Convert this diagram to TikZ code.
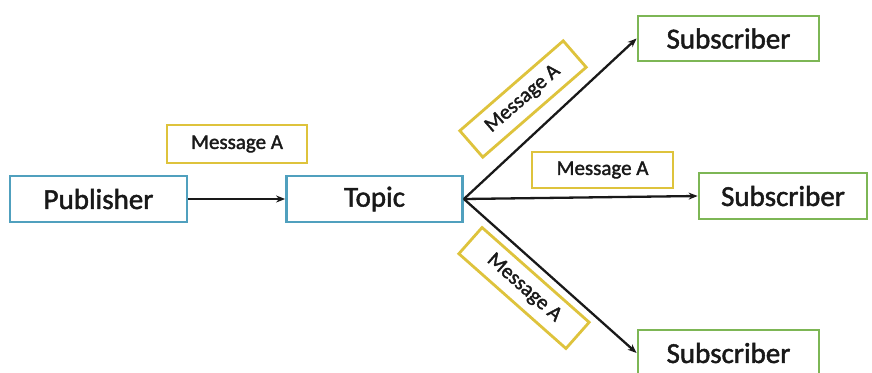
\documentclass[tikz,border=0pt]{standalone}
\usepackage{fontspec}
\setmainfont{Carlito}
\newfontfamily\labelfont[FakeBold=1.6]{Carlito}
\usetikzlibrary{arrows.meta}

\definecolor{pubblue}{RGB}{80,160,190}
\definecolor{msggold}{RGB}{222,195,60}
\definecolor{subgreen}{RGB}{125,182,85}
\definecolor{inktext}{RGB}{25,25,25}

\tikzset{
  bigbox/.style={draw, line width=2.8pt, fill=white, inner sep=0pt,
    text=inktext, font=\labelfont\fontsize{29}{34}\selectfont},
  pubbox/.style={bigbox, draw=pubblue},
  subbox/.style={bigbox, draw=subgreen},
  msgbox/.style={draw=msggold, line width=2.8pt, fill=white, inner sep=0pt,
    text=inktext, font=\labelfont\fontsize{21}{25}\selectfont},
  flow/.style={line width=2.3pt, draw=black!90, -{Stealth[length=9pt,width=7pt]}}
}

\begin{document}
\begin{tikzpicture}[x=1pt,y=-1pt]
  \useasboundingbox[fill=white] (0,0) rectangle (872,372);

  % main boxes
  \node[pubbox, minimum width=177pt, minimum height=46pt] (pub) at (98.5,199) {Publisher};
  \node[pubbox, minimum width=176pt, minimum height=46pt] (topic) at (374.5,199) {Topic};
  \node[subbox, minimum width=181pt, minimum height=45pt] (sub1) at (728.5,38.5) {Subscriber};
  \node[subbox, minimum width=168pt, minimum height=46pt] (sub2) at (783,196) {Subscriber};
  \node[subbox, minimum width=181pt, minimum height=46pt] (sub3) at (728.5,353) {Subscriber};

  % connectors
  \draw[flow] (pub.east) -- (topic.west);
  \draw[flow] (topic.east) -- (sub1.west);
  \draw[flow] (topic.east) -- (sub2.west);
  \draw[flow] (topic.east) -- (sub3.west);

  % message labels
  \node[msgbox, minimum width=140pt, minimum height=38pt] (msg1) at (237,144) {Message A};
  \node[msgbox, minimum width=141pt, minimum height=36pt] (msg2) at (602.5,170) {Message A};
  \node[msgbox, minimum width=137pt, minimum height=35pt, rotate=41] (msg3) at (523,99) {Message A};
  \node[msgbox, minimum width=143pt, minimum height=35pt, rotate=-41.5] (msg4) at (524,288) {Message A};
\end{tikzpicture}
\end{document}
